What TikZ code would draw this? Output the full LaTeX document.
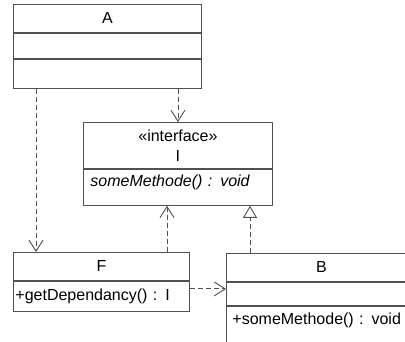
\documentclass[tikz,border=0pt]{standalone}
\usepackage{fontspec}
\setmainfont{Liberation Sans}
\usetikzlibrary{arrows.meta,positioning}
\definecolor{UmlGray}{HTML}{505050}

\begin{document}
\begin{tikzpicture}[x=1pt,y=-1pt,
    box/.style={draw=UmlGray,line width=0.9pt,inner sep=0pt,font=\fontsize{16}{20}\selectfont},
    dep/.style={draw=UmlGray,line width=0.9pt,dash pattern=on 5pt off 3pt,-{Straight Barb[length=11pt,width=14pt]}},
    real/.style={draw=UmlGray,line width=0.9pt,dash pattern=on 5pt off 3pt,-{Triangle[open,length=12pt,width=14pt]}}]
  \useasboundingbox (0,0) rectangle (405,341);
  \fill[white] (0,0) rectangle (405,341);
  \clip (0,0) rectangle (405,341);

  % class A
  \node[box,anchor=north west,minimum width=188,minimum height=28] (A) at (13,4) {A};
  \node[box,minimum width=188,minimum height=25,below=0pt of A] (A-attr) {};
  \node[box,minimum width=188,minimum height=29,below=0pt of A-attr] (A-ops) {};

  % interface I
  \node[box,anchor=north west,minimum width=189,minimum height=46,align=center] (I) at (83,122) {«interface»\\I};
  \node[box,below=0pt of I,inner xsep=7pt,text width=175pt,align=left,text height=17pt,text depth=19pt,
        font=\fontsize{16}{20}\selectfont\itshape] (I-ops) {someMethode() : void};

  % class F
  \node[box,anchor=north west,minimum width=176,minimum height=28] (F) at (13,252) {F};
  \node[box,below=0pt of F,inner xsep=2pt,text width=172pt,align=left,text height=19.5pt,text depth=10.5pt] (F-ops) {+getDependancy() : I};

  % class B
  \node[box,anchor=north west,minimum width=190,minimum height=28] (B) at (226,253) {B};
  \node[box,minimum width=190,minimum height=23,below=0pt of B] (B-attr) {};
  \node[box,below=0pt of B-attr,inner xsep=6pt,text width=178pt,align=left,text height=18.5pt,text depth=37.5pt] (B-ops) {+someMethode() : void};

  % connectors
  \draw[dep] ([xshift=23pt]A-ops.south west) -- ([xshift=23pt]F.north west);
  \draw[dep] (A-ops.south -| I.north) -- (I.north);
  \draw[dep] ([xshift=154pt]F.north west) coordinate (f-up) -- (I-ops.south -| f-up);
  \draw[real] ([xshift=24pt]B.north west) coordinate (b-up) -- (I-ops.south -| b-up);
  \draw[dep] ([yshift=-8pt]F-ops.north east) coordinate (f-right) -- (B-attr.west |- f-right);
\end{tikzpicture}
\end{document}
